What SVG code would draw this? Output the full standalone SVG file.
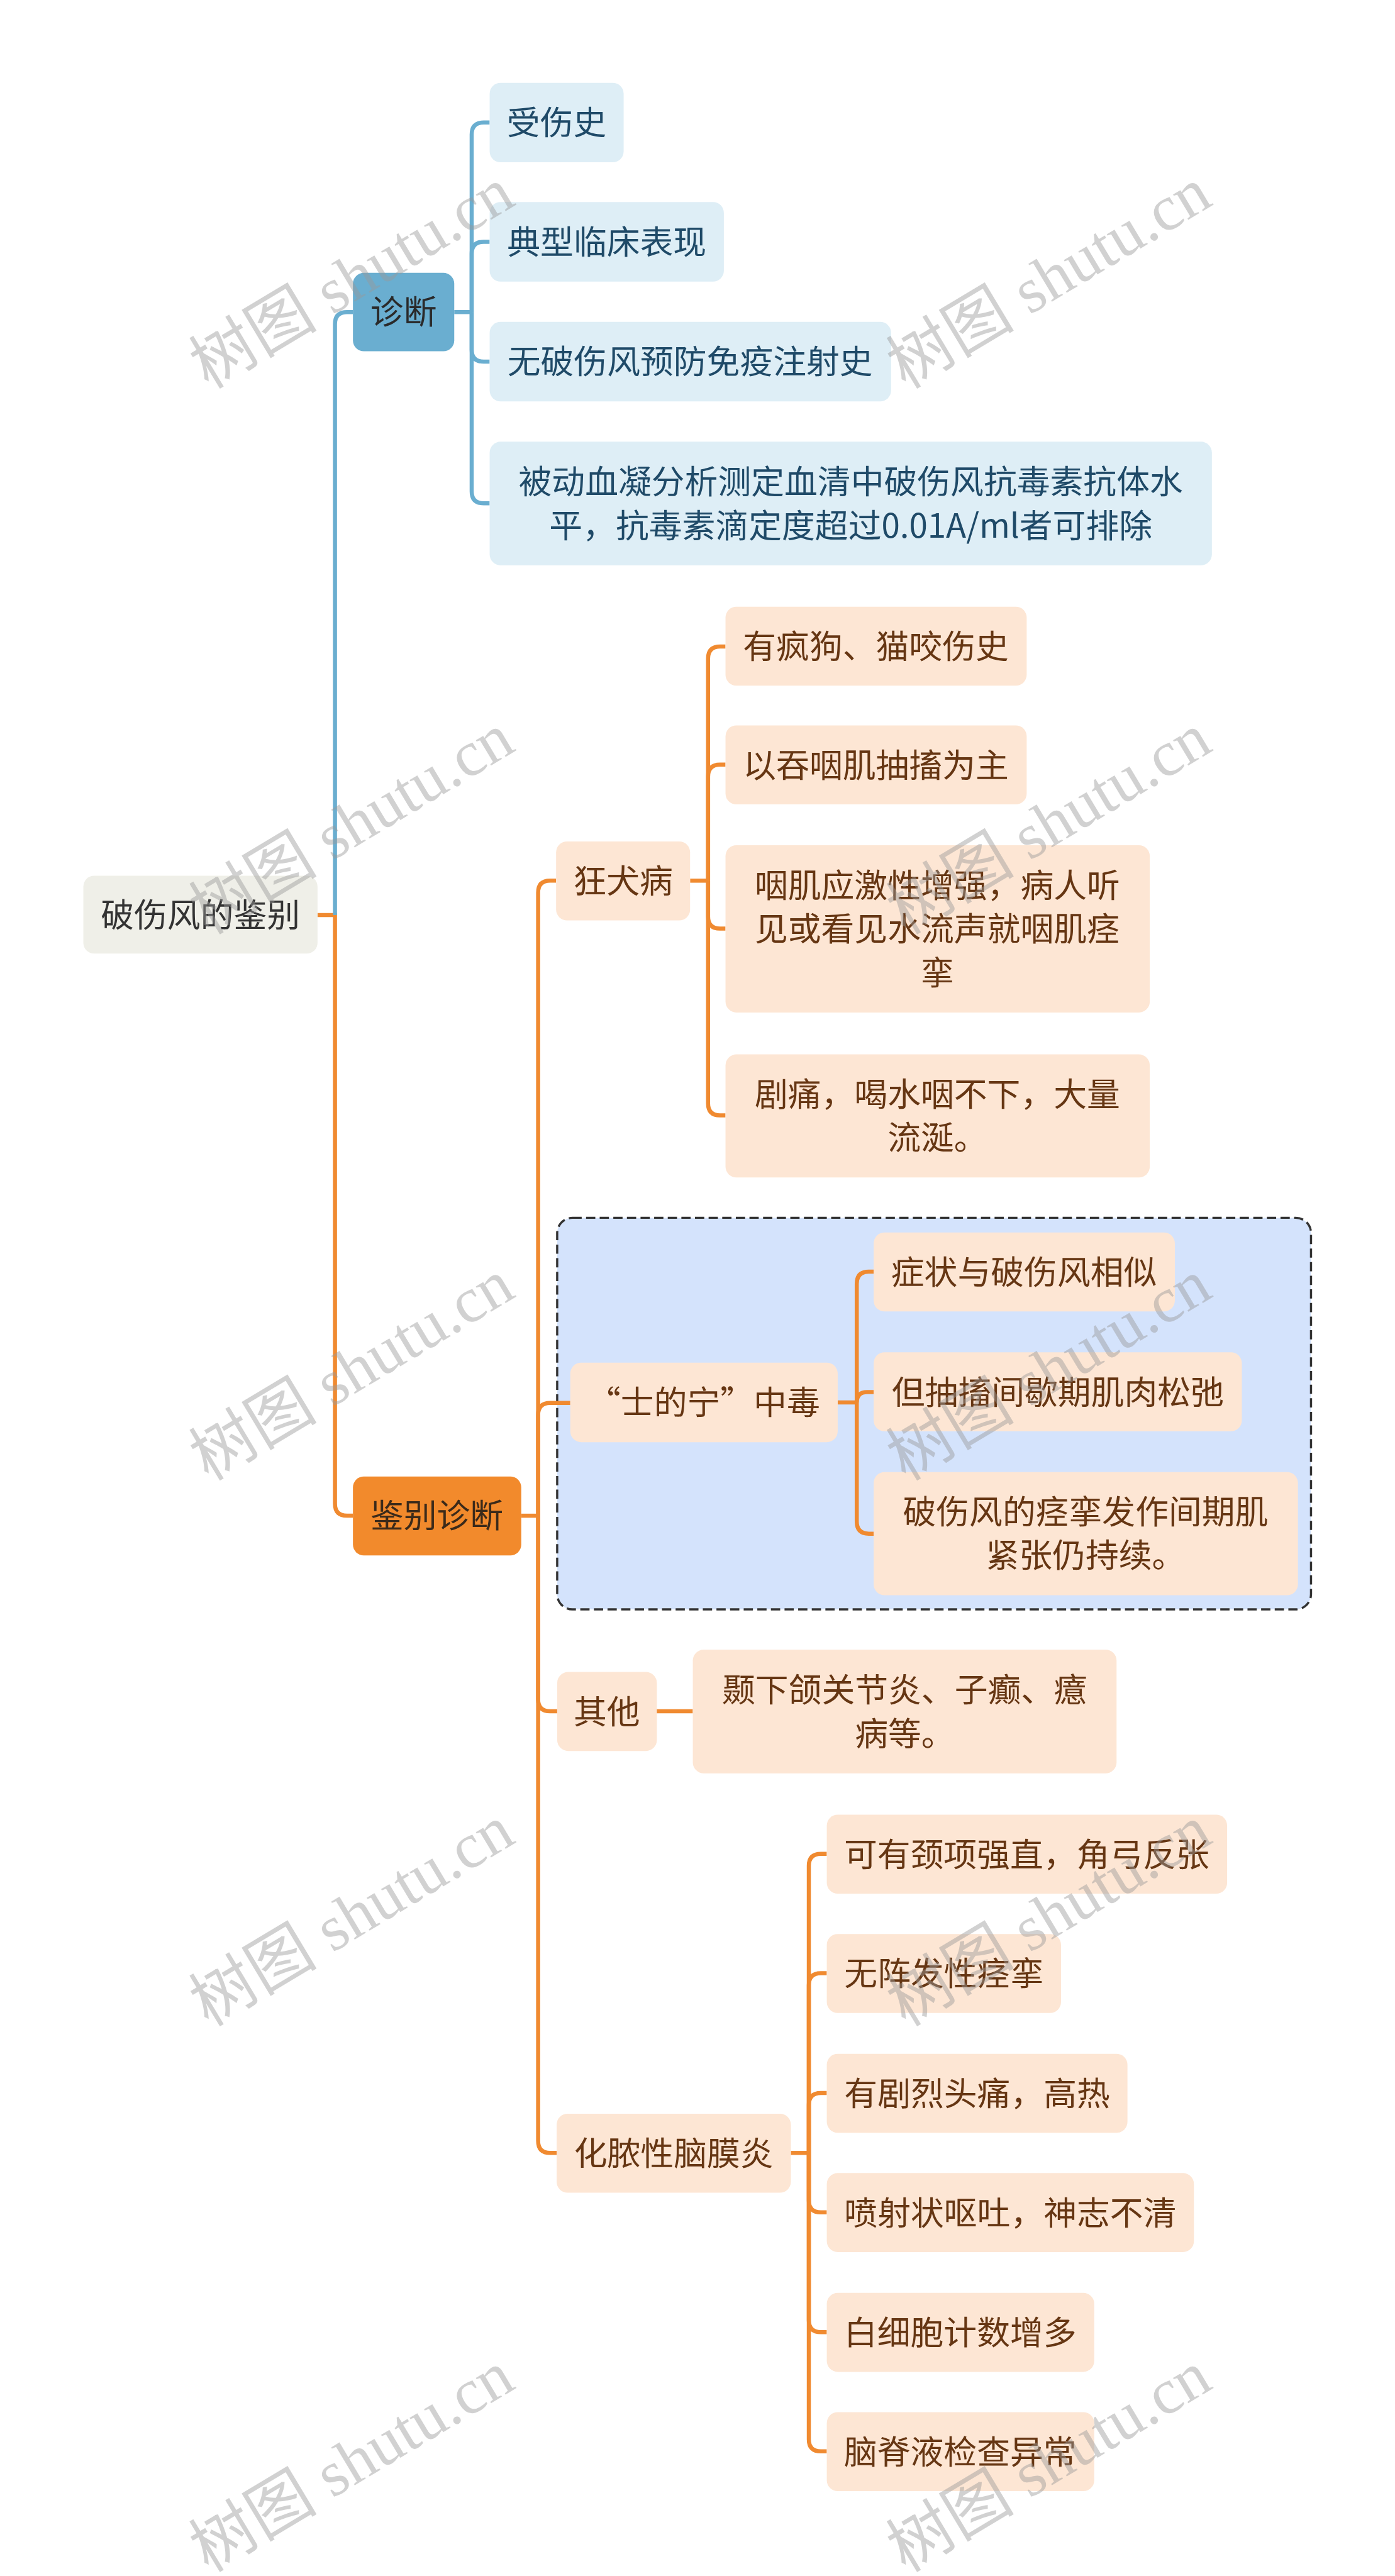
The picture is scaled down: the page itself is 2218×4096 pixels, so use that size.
<svg xmlns="http://www.w3.org/2000/svg" width="2218" height="4096" viewBox="0 0 2218 4096">
<style>
.t{font-family:"Noto Sans CJK SC","Noto Sans",sans-serif;font-size:61px;text-anchor:middle}
.cb{fill:none;stroke:#6aaed0;stroke-width:7.5}
.co{fill:none;stroke:#f08a30;stroke-width:7.5}
.root rect{fill:#efefe8}
.root text{fill:#333333}
.l1b rect{fill:#6aaed0}
.l1b text{fill:#2a2a2a}
.l1o rect{fill:#f28a2c}
.l1o text{fill:#3b2a1a}
.lb rect{fill:#deeef6}
.lb text{fill:#1f4a68}
.lo rect{fill:#fde6d4}
.lo text{fill:#663613}
.wm{font-family:"Liberation Serif","Noto Sans CJK SC",serif;font-size:118px;fill:#9a9a9a;opacity:0.45;text-anchor:middle}
</style>
<rect x="0" y="0" width="2218" height="4096" fill="#ffffff"/>
<g transform="scale(0.866)">
<g id="group-box">
<rect x="1023" y="2236" width="1384" height="719" rx="28" fill="#d4e3fc" stroke="#333333" stroke-width="4" stroke-dasharray="17 8"/>
</g>
<g id="connectors">
<path class="co" d="M583,1680 H615 V2761 Q615,2783 637,2783 H648"/>
<path class="cb" d="M615,1680 V595 Q615,573 637,573 H648"/>
<path class="cb" d="M834,573 H866"/>
<path class="cb" d="M866,573 V247 Q866,225 888,225 H899"/>
<path class="cb" d="M866,573 V466 Q866,444 888,444 H899"/>
<path class="cb" d="M866,573 V642 Q866,664 888,664 H899"/>
<path class="cb" d="M866,573 V902 Q866,924 888,924 H899"/>
<path class="co" d="M957,2783 H988"/>
<path class="co" d="M988,2783 V1639 Q988,1617 1010,1617 H1021"/>
<path class="co" d="M988,2783 V2598 Q988,2576 1010,2576 H1047"/>
<path class="co" d="M988,2783 V3120 Q988,3142 1010,3142 H1023"/>
<path class="co" d="M988,2783 V3931 Q988,3953 1010,3953 H1022"/>
<path class="co" d="M1267,1617 H1300"/>
<path class="co" d="M1300,1617 V1209 Q1300,1187 1322,1187 H1332"/>
<path class="co" d="M1300,1617 V1426 Q1300,1404 1322,1404 H1332"/>
<path class="co" d="M1300,1617 V1683 Q1300,1705 1322,1705 H1332"/>
<path class="co" d="M1300,1617 V2026 Q1300,2048 1322,2048 H1332"/>
<path class="co" d="M1538,2575 H1573"/>
<path class="co" d="M1573,2575 V2357 Q1573,2335 1595,2335 H1604"/>
<path class="co" d="M1573,2575 Q1573,2556 1592,2556 H1604"/>
<path class="co" d="M1573,2575 V2794 Q1573,2816 1595,2816 H1604"/>
<path class="co" d="M1205,3142 H1272"/>
<path class="co" d="M1452,3953 H1485"/>
<path class="co" d="M1485,3953 V3426 Q1485,3404 1507,3404 H1518"/>
<path class="co" d="M1485,3953 V3645 Q1485,3623 1507,3623 H1518"/>
<path class="co" d="M1485,3953 V3865 Q1485,3843 1507,3843 H1518"/>
<path class="co" d="M1485,3953 V4040 Q1485,4062 1507,4062 H1518"/>
<path class="co" d="M1485,3953 V4260 Q1485,4282 1507,4282 H1518"/>
<path class="co" d="M1485,3953 V4479 Q1485,4501 1507,4501 H1518"/>
</g>
<g id="n-root" class="root"><rect x="153" y="1608" width="430" height="143" rx="20"/><text class="t" x="368" y="1702">破伤风的鉴别</text></g>
<g id="n-diag" class="l1b"><rect x="648" y="501" width="186" height="144" rx="20"/><text class="t" x="741" y="595">诊断</text></g>
<g id="n-diff" class="l1o"><rect x="648" y="2711" width="309" height="145" rx="20"/><text class="t" x="802" y="2805">鉴别诊断</text></g>
<g id="n-b1" class="lb"><rect x="899" y="152" width="246" height="146" rx="20"/><text class="t" x="1022" y="247">受伤史</text></g>
<g id="n-b2" class="lb"><rect x="899" y="371" width="430" height="146" rx="20"/><text class="t" x="1114" y="466">典型临床表现</text></g>
<g id="n-b3" class="lb"><rect x="899" y="591" width="737" height="146" rx="20"/><text class="t" x="1267" y="686">无破伤风预防免疫注射史</text></g>
<g id="n-b4" class="lb"><rect x="899" y="811" width="1326" height="227" rx="20"/><text class="t" x="1562" y="907">被动血凝分析测定血清中破伤风抗毒素抗体水</text><text class="t" x="1562" y="987">平，抗毒素滴定度超过0.01A/ml者可排除</text></g>
<g id="n-rabies" class="lo"><rect x="1021" y="1545" width="246" height="145" rx="20"/><text class="t" x="1144" y="1640">狂犬病</text></g>
<g id="n-r1" class="lo"><rect x="1332" y="1114" width="553" height="145" rx="20"/><text class="t" x="1608" y="1209">有疯狗、猫咬伤史</text></g>
<g id="n-r2" class="lo"><rect x="1332" y="1332" width="553" height="145" rx="20"/><text class="t" x="1608" y="1427">以吞咽肌抽搐为主</text></g>
<g id="n-r3" class="lo"><rect x="1332" y="1552" width="779" height="307" rx="20"/><text class="t" x="1721" y="1648">咽肌应激性增强，病人听</text><text class="t" x="1721" y="1728">见或看见水流声就咽肌痉</text><text class="t" x="1721" y="1808">挛</text></g>
<g id="n-r4" class="lo"><rect x="1332" y="1936" width="779" height="226" rx="20"/><text class="t" x="1721" y="2031">剧痛，喝水咽不下，大量</text><text class="t" x="1721" y="2111">流涎。</text></g>
<g id="n-strych" class="lo"><rect x="1047" y="2502" width="491" height="146" rx="20"/><text class="t" x="1292" y="2597">“士的宁”中毒</text></g>
<g id="n-s1" class="lo"><rect x="1604" y="2263" width="553" height="145" rx="20"/><text class="t" x="1880" y="2358">症状与破伤风相似</text></g>
<g id="n-s2" class="lo"><rect x="1604" y="2483" width="676" height="145" rx="20"/><text class="t" x="1942" y="2578">但抽搐间歇期肌肉松弛</text></g>
<g id="n-s3" class="lo"><rect x="1604" y="2703" width="779" height="226" rx="20"/><text class="t" x="1993" y="2798">破伤风的痉挛发作间期肌</text><text class="t" x="1993" y="2878">紧张仍持续。</text></g>
<g id="n-other" class="lo"><rect x="1023" y="3070" width="183" height="145" rx="20"/><text class="t" x="1114" y="3165">其他</text></g>
<g id="n-o1" class="lo"><rect x="1272" y="3029" width="778" height="227" rx="20"/><text class="t" x="1661" y="3125">颞下颌关节炎、子癫、癔</text><text class="t" x="1661" y="3205">病等。</text></g>
<g id="n-mening" class="lo"><rect x="1022" y="3881" width="430" height="145" rx="20"/><text class="t" x="1237" y="3976">化脓性脑膜炎</text></g>
<g id="n-m1" class="lo"><rect x="1518" y="3332" width="735" height="145" rx="20"/><text class="t" x="1885" y="3427">可有颈项强直，角弓反张</text></g>
<g id="n-m2" class="lo"><rect x="1518" y="3551" width="430" height="145" rx="20"/><text class="t" x="1733" y="3646">无阵发性痉挛</text></g>
<g id="n-m3" class="lo"><rect x="1518" y="3771" width="552" height="145" rx="20"/><text class="t" x="1794" y="3866">有剧烈头痛，高热</text></g>
<g id="n-m4" class="lo"><rect x="1518" y="3990" width="674" height="145" rx="20"/><text class="t" x="1855" y="4085">喷射状呕吐，神志不清</text></g>
<g id="n-m5" class="lo"><rect x="1518" y="4210" width="491" height="145" rx="20"/><text class="t" x="1763" y="4305">白细胞计数增多</text></g>
<g id="n-m6" class="lo"><rect x="1518" y="4429" width="491" height="145" rx="20"/><text class="t" x="1763" y="4524">脑脊液检查异常</text></g>
<g id="watermarks">
<text class="wm" x="645" y="551" transform="rotate(-31 645 510)">树图 shutu.cn</text>
<text class="wm" x="1925" y="551" transform="rotate(-31 1925 510)">树图 shutu.cn</text>
<text class="wm" x="645" y="1553" transform="rotate(-31 645 1512)">树图 shutu.cn</text>
<text class="wm" x="1925" y="1553" transform="rotate(-31 1925 1512)">树图 shutu.cn</text>
<text class="wm" x="645" y="2556" transform="rotate(-31 645 2515)">树图 shutu.cn</text>
<text class="wm" x="1925" y="2556" transform="rotate(-31 1925 2515)">树图 shutu.cn</text>
<text class="wm" x="645" y="3558" transform="rotate(-31 645 3517)">树图 shutu.cn</text>
<text class="wm" x="1925" y="3558" transform="rotate(-31 1925 3517)">树图 shutu.cn</text>
<text class="wm" x="645" y="4560" transform="rotate(-31 645 4519)">树图 shutu.cn</text>
<text class="wm" x="1925" y="4560" transform="rotate(-31 1925 4519)">树图 shutu.cn</text>
</g>
</g>
</svg>
